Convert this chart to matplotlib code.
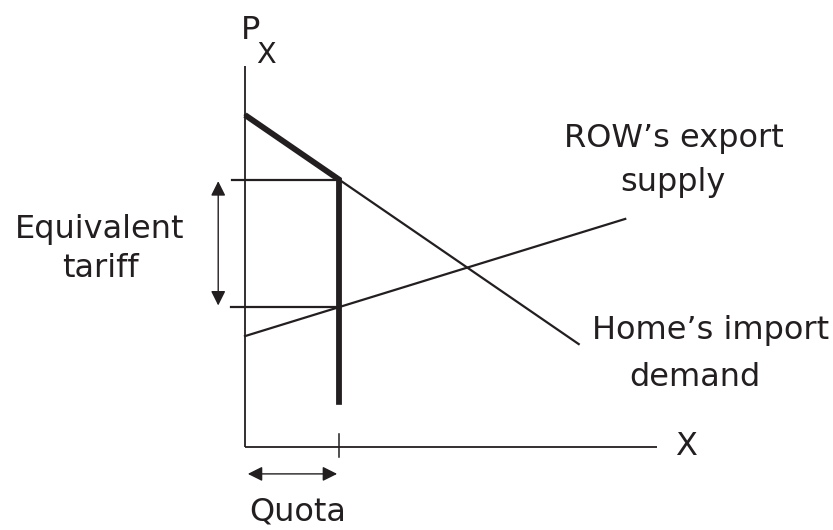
import matplotlib
matplotlib.use("Agg")
import matplotlib.pyplot as plt

# model values (quantity X, price P)
demand_x = [0.0, 7.1]
demand_p = [10.0, 3.1]
supply_x = [0.0, 8.09]
supply_p = [3.34, 6.87]
quota = 2.0
quota_bottom = 1.27
axis_x_max = 8.77
axis_p_max = 11.48

INK = "#231f20"

# one unit of X / P in pixels, and where the origin sits
X_PX, P_PX = 47.0, 33.2
X0_PX, P0_PX = 245.0, 447.0


def demand_at(x):
    slope = (demand_p[1] - demand_p[0]) / (demand_x[1] - demand_x[0])
    return demand_p[0] + slope * (x - demand_x[0])


def supply_at(x):
    slope = (supply_p[1] - supply_p[0]) / (supply_x[1] - supply_x[0])
    return supply_p[0] + slope * (x - supply_x[0])


def px(x, y):
    # pixel position -> data position, used only for placing labels
    return (x - X0_PX) / X_PX, (P0_PX - y) / P_PX


p_high = demand_at(quota)
p_low = supply_at(quota)

plt.rcParams["font.family"] = ["DejaVu Sans"]
fig = plt.figure(figsize=(8.33, 5.30), dpi=100)
ax = fig.add_axes([0, 0, 1, 1])
ax.set_xlim(-X0_PX / X_PX, (833 - X0_PX) / X_PX)
ax.set_ylim((P0_PX - 530) / P_PX, P0_PX / P_PX)
ax.axis("off")

# axes of the diagram
ax.plot([0, 0], [0, axis_p_max], color=INK, lw=1.3, solid_capstyle="butt")
ax.plot([0, axis_x_max], [0, 0], color=INK, lw=1.3, solid_capstyle="butt")
ax.plot([quota, quota], [-0.3, 0.39], color=INK, lw=1.1)

# curves
ax.plot(demand_x, demand_p, color=INK, lw=1.6)
ax.plot(supply_x, supply_p, color=INK, lw=1.6)

# quota-constrained demand (bold)
ax.plot([0, quota, quota], [demand_at(0), p_high, quota_bottom],
        color=INK, lw=4.2, solid_joinstyle="miter", solid_capstyle="butt")

# price levels
ax.plot([-0.28, quota], [p_high, p_high], color=INK, lw=1.6)
ax.plot([-0.3, quota], [p_low, p_low], color=INK, lw=1.6)

# arrows
arrow_kw = dict(arrowstyle="<|-|>", color=INK, lw=1.0, mutation_scale=22,
                shrinkA=0, shrinkB=0)
ax.annotate("", xy=(-0.57, p_high - 0.05), xytext=(-0.57, p_low + 0.05),
            arrowprops=arrow_kw)
ax.annotate("", xy=(0.06, -0.81), xytext=(quota - 0.04, -0.81),
            arrowprops=arrow_kw)

# labels
fs = 23
labels = [
    ("P", 241, 39, "left", fs),
    ("X", 256, 63, "left", fs * 0.9),
    ("X", 686, 455, "center", fs),
    ("Quota", 298, 521, "center", fs),
    ("Equivalent", 100, 238, "center", fs),
    ("tariff", 100, 277, "center", fs),
    ("ROW’s export", 674, 147, "center", fs),
    ("supply", 673, 191, "center", fs),
    ("Home’s import", 711, 339, "center", fs),
    ("demand", 695, 386, "center", fs),
]
for text, x, y, ha, size in labels:
    ax.text(*px(x, y), text, fontsize=size, color=INK, ha=ha, va="baseline")

fig.savefig("out.png", dpi=100)
